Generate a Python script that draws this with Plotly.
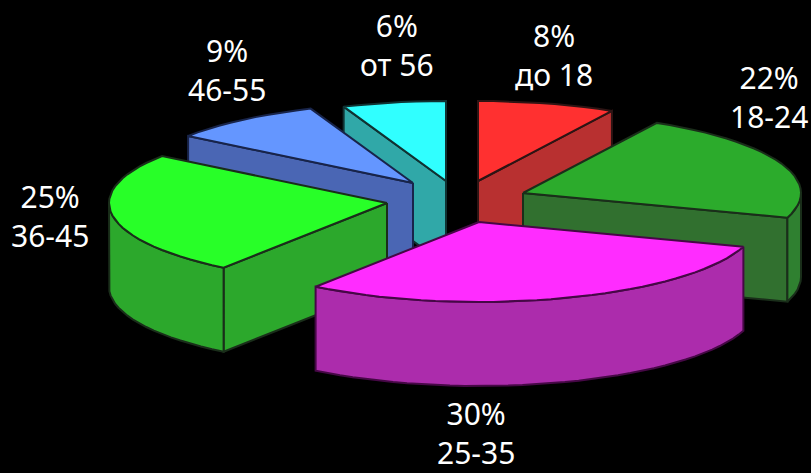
import numpy as np
import plotly.graph_objects as go

categories = ["до 18", "18-24", "25-35", "36-45", "46-55", "от 56"]
values = [8, 22, 30, 25, 9, 6]

top_colors = ["#ff3030", "#2cab2c", "#ff2cff", "#28ff28", "#6496ff", "#30ffff"]
side_colors = ["#b83030", "#31702f", "#ac2cac", "#2ca82c", "#4a66b4", "#30a8a8"]
rim_colors = ["#b83030", "#2f8030", "#ac2cac", "#2ca82c", "#4a66b4", "#30a8a8"]
edge_colors = ["#2e1414", "#1a2e1a", "#460846", "#1a2e1a", "#18244a", "#103232"]

apex = [(478, 181), (523, 193), (479, 222), (387, 203), (413, 183), (446, 181)]
label_pos = [(554, 55), (769, 97), (476, 433), (50, 216), (227, 70), (397, 45)]
draw_order = [5, 0, 4, 1, 3, 2]

RX, RY, DEPTH = 278, 80, 84
FONT = "Noto Sans"


def pt(i, deg, down=0):
    a = np.radians(deg)
    return apex[i][0] + RX * np.sin(a), apex[i][1] - RY * np.cos(a) + down


def arc(i, a0, a1, down=0):
    n = max(2, int(abs(a1 - a0) / 3) + 1)
    return [pt(i, d, down) for d in np.linspace(a0, a1, n)]


fig = go.Figure()


def poly(points, fill, edge):
    xs = [p[0] for p in points] + [points[0][0]]
    ys = [p[1] for p in points] + [points[0][1]]
    fig.add_trace(go.Scatter(x=xs, y=ys, mode="lines", fill="toself", fillcolor=fill,
                             line=dict(color=edge, width=2), hoverinfo="skip",
                             showlegend=False))


def wall(i, deg):
    a = (apex[i][0], apex[i][1])
    b = pt(i, deg)
    poly([a, b, (b[0], b[1] + DEPTH), (a[0], a[1] + DEPTH)], side_colors[i], edge_colors[i])


starts = np.cumsum([0] + values[:-1]) * 3.6
ends = np.cumsum(values) * 3.6

for i in draw_order:
    a0, a1 = float(starts[i]), float(ends[i])
    # radial wall facing the viewer
    if a1 <= 180:
        wall(i, a1)
    elif a0 >= 180:
        wall(i, a0)
    # outer rim: only the part on the front half is visible
    r0, r1 = max(a0, 90), min(a1, 270)
    if r0 < r1:
        poly(arc(i, r0, r1) + arc(i, r1, r0, DEPTH), rim_colors[i], edge_colors[i])
    # top face
    poly([apex[i]] + arc(i, a0, a1), top_colors[i], edge_colors[i])

for i, (c, v) in enumerate(zip(categories, values)):
    fig.add_annotation(x=label_pos[i][0], y=label_pos[i][1], text=f"{v}%<br>{c}",
                       showarrow=False, xanchor="center", yanchor="middle", align="center",
                       font=dict(family=FONT, size=30, color="#ffffff"))

fig.update_layout(width=811, height=473, margin=dict(l=0, r=0, t=0, b=0),
                  paper_bgcolor="#000000", plot_bgcolor="#000000", showlegend=False,
                  xaxis=dict(range=[0, 811], visible=False, fixedrange=True),
                  yaxis=dict(range=[473, 0], visible=False, fixedrange=True))

fig.write_html("out.html", config={"displayModeBar": False},
               post_script="document.body.style.margin='0';document.body.style.overflow='hidden';document.body.style.background='#000';")
